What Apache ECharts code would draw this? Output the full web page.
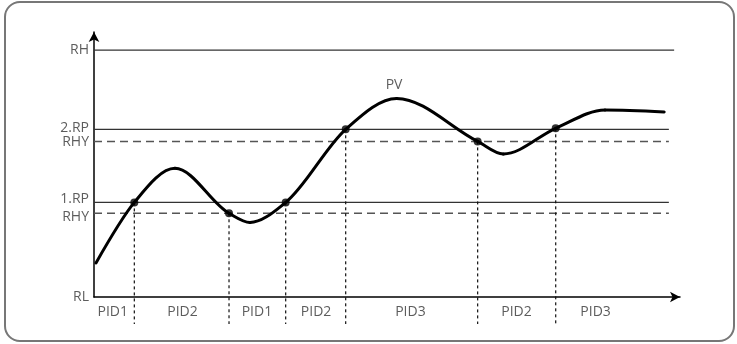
<!DOCTYPE html>
<html>
<head>
<meta charset="utf-8">
<script src="https://cdn.jsdelivr.net/npm/echarts@6/dist/echarts.min.js"></script>
<style>
html,body{margin:0;padding:0;background:#fff;}
#chart{width:737px;height:344px;}
</style>
</head>
<body>
<div id="chart"></div>
<script>
// ---- data (abstract units: time 0..100, level RL=0 .. RH=100) ----
const pvX = [0.34, 6.88, 13.82, 23.04, 26.62, 32.71, 42.95, 51.65, 65.47, 69.85, 78.79, 87.2, 97.3];
const pvY = [13.8, 38.3, 52.1, 33.9, 30.2, 38.3, 67.9, 80.4, 63.0, 57.9, 68.3, 75.7, 74.9];

const levelNames = ['RL', 'RHY', '1.RP', 'RHY', '2.RP', 'RH'];
const levelValues = [0, 33.9, 38.3, 63.0, 67.9, 100];
const levelKinds = ['axis', 'dashed', 'solid', 'dashed', 'solid', 'solid'];
const levelEnds = [0, 98.1, 98.1, 98.1, 98.1, 99.0];

const switchX = [6.88, 23.04, 32.71, 42.95, 65.47, 78.79];
const switchY = [38.3, 33.9, 38.3, 67.9, 63.0, 68.3];
const switchBottom = -10.9;

const pidNames = ['PID1', 'PID2', 'PID1', 'PID2', 'PID3', 'PID2', 'PID3'];
const pidCenters = [3.2, 15.1, 27.8, 37.9, 54.0, 72.1, 85.6];
const pidLevel = -6.1;

const pvLabel = 'PV';
const pvLabelPos = [51.2, 85.8];

// ---- build options ----
const font = '"Open Sans", "Noto Sans", sans-serif';
const textColor = '#333';
const series = [];

levelValues.forEach((v, i) => {
  if (levelKinds[i] === 'axis') return;
  series.push({
    type: 'line', silent: true, symbol: 'none', z: 2,
    data: [[0, v], [levelEnds[i], v]],
    lineStyle: levelKinds[i] === 'dashed'
      ? { color: '#555', width: 1.5, type: [8, 5] }
      : { color: '#333', width: 1.3 }
  });
});

switchX.forEach((x, i) => {
  series.push({
    type: 'line', silent: true, symbol: 'none', clip: false, z: 3,
    data: [[x, switchY[i]], [x, switchBottom]],
    lineStyle: { color: '#111', width: 1.2, type: [3, 3] }
  });
});

// monotone cubic (x-monotone) curve through the PV points, drawn in pixel space
function monotoneSegments(pts) {
  const n = pts.length, h = [], s = [], t = [];
  for (let i = 0; i < n - 1; i++) {
    h[i] = pts[i + 1][0] - pts[i][0];
    s[i] = (pts[i + 1][1] - pts[i][1]) / h[i];
  }
  for (let i = 1; i < n - 1; i++) {
    const p = (s[i - 1] * h[i] + s[i] * h[i - 1]) / (h[i - 1] + h[i]);
    t[i] = (Math.sign(s[i - 1]) + Math.sign(s[i])) *
      Math.min(Math.abs(s[i - 1]), Math.abs(s[i]), 0.5 * Math.abs(p)) || 0;
  }
  t[0] = (3 * s[0] - t[1]) / 2;
  t[n - 1] = (3 * s[n - 2] - t[n - 2]) / 2;
  const segs = [];
  for (let i = 0; i < n - 1; i++) {
    const d = h[i] / 3;
    segs.push({
      x1: pts[i][0], y1: pts[i][1],
      cpx1: pts[i][0] + d, cpy1: pts[i][1] + d * t[i],
      cpx2: pts[i + 1][0] - d, cpy2: pts[i + 1][1] - d * t[i + 1],
      x2: pts[i + 1][0], y2: pts[i + 1][1]
    });
  }
  return segs;
}

series.push({
  type: 'custom', name: 'PV', z: 5, silent: true,
  data: pvX.map((x, i) => [x, pvY[i]]),
  encode: { x: 0, y: 1 },
  renderItem: function (params, api) {
    if (params.dataIndex !== 0) return null;
    const pts = pvX.map((x, i) => api.coord([x, pvY[i]]));
    return {
      type: 'group',
      children: monotoneSegments(pts).map(sh => ({
        type: 'bezierCurve', shape: sh,
        style: { stroke: '#000', lineWidth: 3, fill: null, lineCap: 'round' }
      }))
    };
  }
});

series.push({
  type: 'scatter', z: 6, symbolSize: 8,
  itemStyle: { color: '#000' },
  data: switchX.map((x, i) => [x, switchY[i]])
});

const nudge = { 0: 0, 1: 4, 2: -3, 3: 1, 4: -1, 5: 0 };
series.push({
  type: 'scatter', z: 6, symbolSize: 0, clip: false, silent: true,
  data: levelValues.map((v, i) => ({
    value: [0, v], name: levelNames[i],
    label: { offset: [0, nudge[i]] }
  })),
  label: {
    show: true, position: 'left', distance: 5, formatter: p => p.name,
    color: textColor, fontSize: 14, fontFamily: font
  }
});

series.push({
  type: 'scatter', z: 6, symbolSize: 0, clip: false, silent: true,
  data: pidNames.map((n, i) => ({ value: [pidCenters[i], pidLevel], name: n })),
  label: {
    show: true, position: 'inside', formatter: p => p.name,
    color: textColor, fontSize: 14, fontFamily: font
  }
});

series.push({
  type: 'scatter', z: 6, symbolSize: 0, clip: false, silent: true,
  data: [{ value: pvLabelPos, name: pvLabel }],
  label: {
    show: true, position: 'inside', formatter: p => p.name,
    color: textColor, fontSize: 14, fontFamily: font
  }
});

const axisLineStyle = { color: '#000', width: 1.5 };
const chart = echarts.init(document.getElementById('chart'), null, { renderer: 'canvas' });
chart.setOption({
  animation: false,
  backgroundColor: '#fff',
  graphic: [{
    type: 'rect', silent: true,
    shape: { x: 5, y: 2, width: 729, height: 339, r: 15 },
    style: { fill: 'none', stroke: '#777', lineWidth: 2 }
  }],
  grid: { left: 94, right: 57, top: 32, bottom: 47 },
  xAxis: {
    type: 'value', min: 0, max: 100,
    axisLine: { show: true, onZero: false, lineStyle: axisLineStyle, symbol: ['none', 'arrow'], symbolSize: [8, 10] },
    axisTick: { show: false }, axisLabel: { show: false }, splitLine: { show: false }
  },
  yAxis: {
    type: 'value', min: 0, max: 107.3,
    axisLine: { show: true, onZero: false, lineStyle: axisLineStyle, symbol: ['none', 'arrow'], symbolSize: [8, 10] },
    axisTick: { show: false }, axisLabel: { show: false }, splitLine: { show: false }
  },
  series: series
});
</script>
</body>
</html>
